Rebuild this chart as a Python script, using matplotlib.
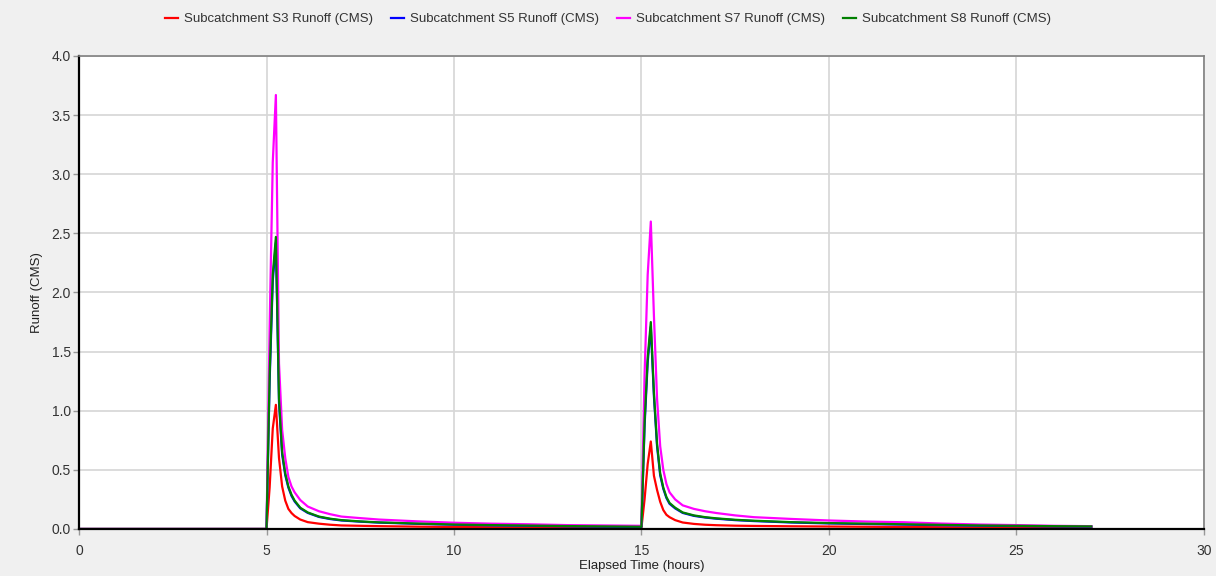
import matplotlib
matplotlib.use("Agg")
import matplotlib.pyplot as plt

plt.rcParams['font.family'] = ['Liberation Sans', 'DejaVu Sans']

hours = [0, 5.0, 5.0833, 5.1667, 5.25, 5.3333, 5.4167, 5.5, 5.5833, 5.6667, 5.75, 5.9, 6.1, 6.4, 6.7,
         7.0, 7.5, 8.0, 9.0, 10.0, 11.0, 12.0, 13.0, 14.0, 15.0,
         15.0833, 15.1667, 15.25, 15.3333, 15.4167, 15.5, 15.5833, 15.6667, 15.75, 15.9, 16.1, 16.4, 16.7,
         17.0, 17.5, 18.0, 19.0, 20.0, 21.0, 22.0, 23.0, 24.0, 25.0, 26.0, 27.0]

s3 = [0, 0, 0.35, 0.85, 1.05, 0.6, 0.36, 0.24, 0.17, 0.135, 0.11, 0.08, 0.058, 0.045, 0.036,
      0.03, 0.027, 0.024, 0.02, 0.017, 0.015, 0.013, 0.012, 0.011, 0.01,
      0.25, 0.55, 0.74, 0.45, 0.33, 0.23, 0.16, 0.12, 0.1, 0.075, 0.055, 0.043, 0.036,
      0.032, 0.028, 0.026, 0.023, 0.021, 0.019, 0.017, 0.015, 0.013, 0.011, 0.01, 0.009]

s8 = [0, 0, 1.3, 2.15, 2.47, 1.1, 0.65, 0.47, 0.36, 0.29, 0.24, 0.18, 0.14, 0.105, 0.087,
      0.075, 0.064, 0.056, 0.046, 0.038, 0.033, 0.029, 0.025, 0.022, 0.019,
      0.9, 1.45, 1.75, 1.15, 0.72, 0.47, 0.35, 0.27, 0.22, 0.18, 0.14, 0.115, 0.1,
      0.09, 0.078, 0.07, 0.058, 0.05, 0.045, 0.04, 0.035, 0.03, 0.027, 0.024, 0.022]

s5 = [0, 0, 1.25, 2.1, 2.42, 1.07, 0.63, 0.455, 0.35, 0.28, 0.233, 0.175, 0.136, 0.102, 0.084,
      0.072, 0.062, 0.054, 0.044, 0.036, 0.031, 0.027, 0.023, 0.02, 0.017,
      0.87, 1.41, 1.71, 1.12, 0.7, 0.455, 0.34, 0.262, 0.213, 0.174, 0.136, 0.111, 0.097,
      0.087, 0.075, 0.067, 0.055, 0.047, 0.042, 0.037, 0.032, 0.028, 0.025, 0.022, 0.02]

s7 = [0, 0, 1.7, 3.1, 3.67, 1.4, 0.84, 0.6, 0.44, 0.36, 0.31, 0.245, 0.19, 0.15, 0.125,
      0.105, 0.092, 0.08, 0.065, 0.053, 0.045, 0.04, 0.033, 0.03, 0.027,
      1.3, 2.15, 2.6, 1.8, 1.1, 0.7, 0.5, 0.38, 0.31, 0.25, 0.2, 0.17, 0.15,
      0.135, 0.115, 0.1, 0.085, 0.072, 0.063, 0.057, 0.046, 0.038, 0.033, 0.027, 0.024]

labels = ["Subcatchment S3 Runoff (CMS)", "Subcatchment S5 Runoff (CMS)",
          "Subcatchment S7 Runoff (CMS)", "Subcatchment S8 Runoff (CMS)"]
colors = ["#ff0000", "#0000ff", "#ff00ff", "#008000"]
series = [s3, s5, s7, s8]

fig = plt.figure(figsize=(12.16, 5.76), dpi=100, facecolor="#f0f0f0")
ax = fig.add_axes([0.065, 0.0816, 0.925, 0.8212])
ax.set_facecolor("white")

for ys, c, lab in zip(series, colors, labels):
    ax.plot(hours, ys, color=c, lw=1.6, label=lab)

ax.set_xlim(0, 30)
ax.set_ylim(0, 4.0)
ax.set_xticks(range(0, 31, 5))
ax.set_yticks([i * 0.5 for i in range(9)])
ax.set_yticklabels([f"{i*0.5:.1f}" for i in range(9)])
ax.grid(True, color="#d6d6d6", lw=1.2)
ax.set_axisbelow(True)
ax.tick_params(colors="#999999", labelcolor="#333333", labelsize=10, length=4, width=1)
ax.tick_params(axis="x", pad=7)
ax.tick_params(axis="y", pad=2)

for side in ["left", "bottom"]:
    ax.spines[side].set_color("black")
    ax.spines[side].set_linewidth(1.6)
for side in ["top", "right"]:
    ax.spines[side].set_color("#808080")
    ax.spines[side].set_linewidth(1.2)

ax.set_xlabel("Elapsed Time (hours)", fontsize=9.5, color="#222222", labelpad=1)
ax.set_ylabel("Runoff (CMS)", fontsize=9.5, color="#222222", labelpad=6)

fig.legend(loc="upper center", bbox_to_anchor=(0.5, 1.0), ncol=4, frameon=False,
           fontsize=9.5, handlelength=1.0, handletextpad=0.5, columnspacing=1.3,
           borderaxespad=0.6, labelcolor="#333333")

fig.savefig("out.png", dpi=100, facecolor=fig.get_facecolor())
